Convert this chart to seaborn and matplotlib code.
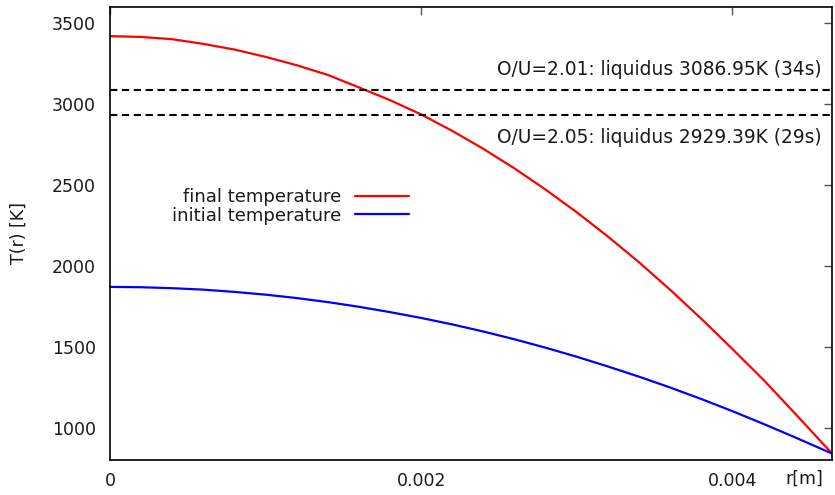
import numpy as np
import pandas as pd
import matplotlib
matplotlib.use("Agg")
import matplotlib.pyplot as plt
import matplotlib.transforms as mtransforms
import seaborn as sns

# radial position [m] and temperature profiles [K]
r_vals = [0.0, 0.0002, 0.0004, 0.0006, 0.0008, 0.001, 0.0012, 0.0014,
          0.0016, 0.0018, 0.002, 0.0022, 0.0024, 0.0026, 0.0028, 0.003,
          0.0032, 0.0034, 0.0036, 0.0038, 0.004, 0.0042, 0.0044, 0.00464]
t_final = [3420, 3415, 3401, 3372, 3337, 3292, 3240, 3180,
           3103, 3024, 2936, 2834, 2723, 2602, 2471, 2331,
           2181, 2022, 1852, 1673, 1486, 1295, 1090, 840]
t_initial = [1870, 1868, 1862, 1853, 1839, 1822, 1801, 1776,
             1747, 1714, 1678, 1638, 1594, 1546, 1494, 1438,
             1378, 1315, 1248, 1177, 1102, 1023, 941, 840]

liquidus_vals = [3086.95, 2929.39]
liquidus_labels = ["O/U=2.01: liquidus 3086.95K (34s)",
                   "O/U=2.05: liquidus 2929.39K (29s)"]
series_names = ["final temperature", "initial temperature"]
x_ticks = [0, 0.002, 0.004]
x_ticklabels = ["0", "0.002", "0.004"]
y_ticks = [1000, 1500, 2000, 2500, 3000, 3500]

sns.set_theme(style="white")
plt.rcParams["font.family"] = ["DejaVu Sans"]
txt = "#1a1a1a"

df = pd.DataFrame({
    "r": r_vals * 2,
    "T": t_final + t_initial,
    "series": [series_names[0]] * len(r_vals) + [series_names[1]] * len(r_vals),
})

fig = plt.figure(figsize=(8.35, 4.95), dpi=100)
ax = fig.add_axes([110 / 835, 35 / 495, 722 / 835, 453 / 495])

sns.lineplot(data=df, x="r", y="T", hue="series", hue_order=series_names,
             palette=["#ff0000", "#0000ff"], linewidth=1.6, ax=ax,
             sort=False, estimator=None)

for val in liquidus_vals:
    ax.axhline(val, color="black", linewidth=1.5, dashes=(3.5, 2.2))

trans = mtransforms.blended_transform_factory(ax.transAxes, ax.transData)
ax.annotate(liquidus_labels[0], xy=(0.986, liquidus_vals[0]), xycoords=trans,
            xytext=(0, 15), textcoords="offset points", ha="right", va="center",
            fontsize=13.4, color=txt)
ax.annotate(liquidus_labels[1], xy=(0.986, liquidus_vals[1]), xycoords=trans,
            xytext=(0, -15.5), textcoords="offset points", ha="right", va="center",
            fontsize=13.4, color=txt)

ax.set_xlim(0, 0.00464)
ax.set_ylim(800, 3600)
ax.set_xticks(x_ticks)
ax.set_xticklabels(x_ticklabels)
ax.set_yticks(y_ticks)
ax.tick_params(direction="in", length=6, width=1, color="#555555",
               labelsize=12.5, labelcolor=txt, top=True, right=True)
ax.tick_params(axis="y", pad=10)
ax.tick_params(axis="x", pad=9)
for sp in ax.spines.values():
    sp.set_color("black")
    sp.set_linewidth(1.2)

ax.set_ylabel("T(r) [K]", fontsize=12.5, color=txt)
ax.yaxis.set_label_coords(-0.114, 0.5)
ax.set_xlabel("r[m]", fontsize=12.5, color=txt)
ax.xaxis.set_label_coords(0.962, -0.021)

leg = ax.legend(loc="center right", bbox_to_anchor=(0.414, 0.56),
                frameon=False, markerfirst=False, fontsize=13,
                handlelength=3.0, handletextpad=0.75, labelspacing=0.05,
                borderpad=0, borderaxespad=0)
for t in leg.get_texts():
    t.set_color(txt)

fig.savefig("out.png", dpi=100)
